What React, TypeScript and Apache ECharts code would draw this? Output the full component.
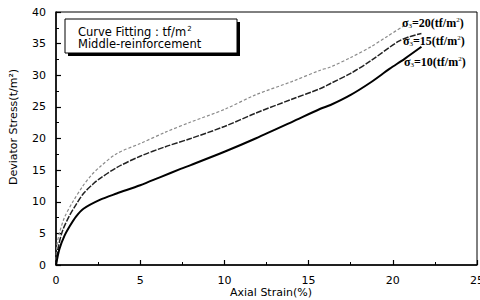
import React, { useEffect, useRef } from "react";
import * as echarts from "echarts";

const xTicks = [0, 5, 10, 15, 20, 25];
const yTicks = [0, 5, 10, 15, 20, 25, 30, 35, 40];

const sigma10: [number, number][] = [
  [0, 0], [0.2, 2.5], [0.5, 4.6], [0.83, 6.2], [1.2, 7.7], [1.63, 8.9], [2.6, 10.3],
  [3.6, 11.3], [5, 12.6], [6.2, 13.9], [7.4, 15.2], [8, 15.8], [10, 17.9], [11.85, 20],
  [14, 22.6], [15.7, 24.7], [16.3, 25.3], [17.5, 26.9], [18.7, 28.9], [19.8, 31],
  [20.7, 32.6], [21.7, 34.5],
];
const sigma15: [number, number][] = [
  [0, 0], [0.15, 3], [0.4, 5.5], [0.8, 7.8], [1.2, 9.6], [1.63, 11.3], [2.2, 12.8],
  [2.62, 13.7], [3.6, 15.4], [5, 17.2], [6.5, 18.7], [8, 20], [10, 21.9], [11.85, 24],
  [14, 26.2], [15.7, 27.9], [16.3, 28.7], [17.5, 30.3], [18.7, 32.3], [20.3, 35.3],
  [21, 36.1], [21.7, 36.6],
];
const sigma20: [number, number][] = [
  [0, 0], [0.05, 3], [0.2, 5], [0.5, 7.5], [1, 10], [1.6, 12.5], [2.1, 14.2], [2.6, 15.5],
  [3.6, 17.6], [5, 19.2], [6.5, 21], [8, 22.6], [10, 24.6], [11.85, 26.9], [14, 29],
  [15.7, 30.8], [16.3, 31.3], [17.5, 32.8], [18.7, 34.5], [19.7, 36.2], [20.7, 37.9],
];
const curveLabels = ["20", "15", "10"];

const sans = "DejaVu Sans";
const serif = "Liberation Serif";

function sigmaLabel(v: string, x: number, y: number) {
  return {
    type: "text",
    left: x,
    top: y,
    style: {
      text: `{s|σ}{sub|3}{s|=${v}(tf/m}{sup|2}{s|)}`,
      rich: {
        s: { fontFamily: serif, fontSize: 12, fill: "#000", fontWeight: "bold" },
        sub: { fontFamily: serif, fontSize: 7, fill: "#000", verticalAlign: "bottom", padding: [6, 0, 0, 0] },
        sup: { fontFamily: serif, fontSize: 7, fill: "#000", verticalAlign: "top", padding: [0, 0, 6, 0] },
      },
    },
    z: 10,
  };
}

export default function App() {
  const ref = useRef<HTMLDivElement>(null);
  useEffect(() => {
    const chart = echarts.init(ref.current!, null, { renderer: "svg" });
    chart.setOption({
      animation: false,
      backgroundColor: "#fff",
      grid: {
        left: 56, right: 3, top: 12, bottom: 35,
        outerBoundsMode: "none", containLabel: false,
        show: true, borderColor: "#000", borderWidth: 1, backgroundColor: "transparent",
      },
      xAxis: {
        type: "value", min: 0, max: 25, interval: 5,
        axisLine: { lineStyle: { color: "#000", width: 1.5 } },
        axisTick: { inside: true, length: 5, lineStyle: { color: "#000", width: 1.2 } },
        minorTick: { show: true, splitNumber: 2, length: 3, lineStyle: { color: "#000" } },
        axisLabel: { margin: 10, fontFamily: sans, fontSize: 11, color: "#000",
          formatter: (v: number) => (xTicks.includes(v) ? String(v) : "") },
        splitLine: { show: false },
      },
      yAxis: {
        type: "value", min: 0, max: 40, interval: 5,
        axisLine: { show: true, lineStyle: { color: "#000", width: 1.5 } },
        axisTick: { show: true, inside: true, length: 5, lineStyle: { color: "#000", width: 1.2 } },
        minorTick: { show: true, splitNumber: 2, length: 3, lineStyle: { color: "#000" } },
        axisLabel: { margin: 10, fontFamily: sans, fontSize: 11, color: "#000",
          formatter: (v: number) => (yTicks.includes(v) ? String(v) : "") },
        splitLine: { show: false },
      },
      series: [
        { type: "line", data: sigma20, smooth: 0.3, showSymbol: false,
          lineStyle: { color: "#8a8a8a", width: 1.2, type: [3, 2] } },
        { type: "line", data: sigma15, smooth: 0.3, showSymbol: false,
          lineStyle: { color: "#222", width: 1.5, type: [6, 1.5] } },
        { type: "line", data: sigma10, smooth: 0.3, showSymbol: false,
          lineStyle: { color: "#000", width: 2 } },
      ],
      graphic: [
        { type: "rect", shape: { x: 68, y: 22, width: 172, height: 34 }, style: { fill: "#000" }, z: 9 },
        { type: "rect", shape: { x: 65, y: 19, width: 172, height: 34 },
          style: { fill: "#fff", stroke: "#000", lineWidth: 1 }, z: 10 },
        { type: "text", left: 78, top: 25, z: 11,
          style: { text: "{a|Curve Fitting : tf/m}{b|2}", rich: {
            a: { fontFamily: sans, fontSize: 11.5, fill: "#000" },
            b: { fontFamily: sans, fontSize: 7, fill: "#000", verticalAlign: "top", padding: [0, 0, 6, 1] } } } },
        { type: "text", left: 78, top: 38, z: 11,
          style: { text: "Middle-reinforcement", fontFamily: sans, fontSize: 11.5, fill: "#000" } },
        { type: "text", x: 13, y: 127, rotation: Math.PI / 2, z: 11,
          style: { text: "Deviator Stress(t/m²)", fontFamily: sans, fontSize: 11, fill: "#000",
            align: "center", verticalAlign: "middle" } },
        { type: "text", x: 271, y: 292, z: 11,
          style: { text: "Axial Strain(%)", fontFamily: sans, fontSize: 11, fill: "#000",
            align: "center", verticalAlign: "middle" } },
        sigmaLabel(curveLabels[0], 402, 16),
        sigmaLabel(curveLabels[1], 403, 34),
        sigmaLabel(curveLabels[2], 404, 55),
      ],
    });
    return () => chart.dispose();
  }, []);
  return <div ref={ref} style={{ width: 480, height: 300, position: "fixed", left: 0, top: 0 }} />;
}
